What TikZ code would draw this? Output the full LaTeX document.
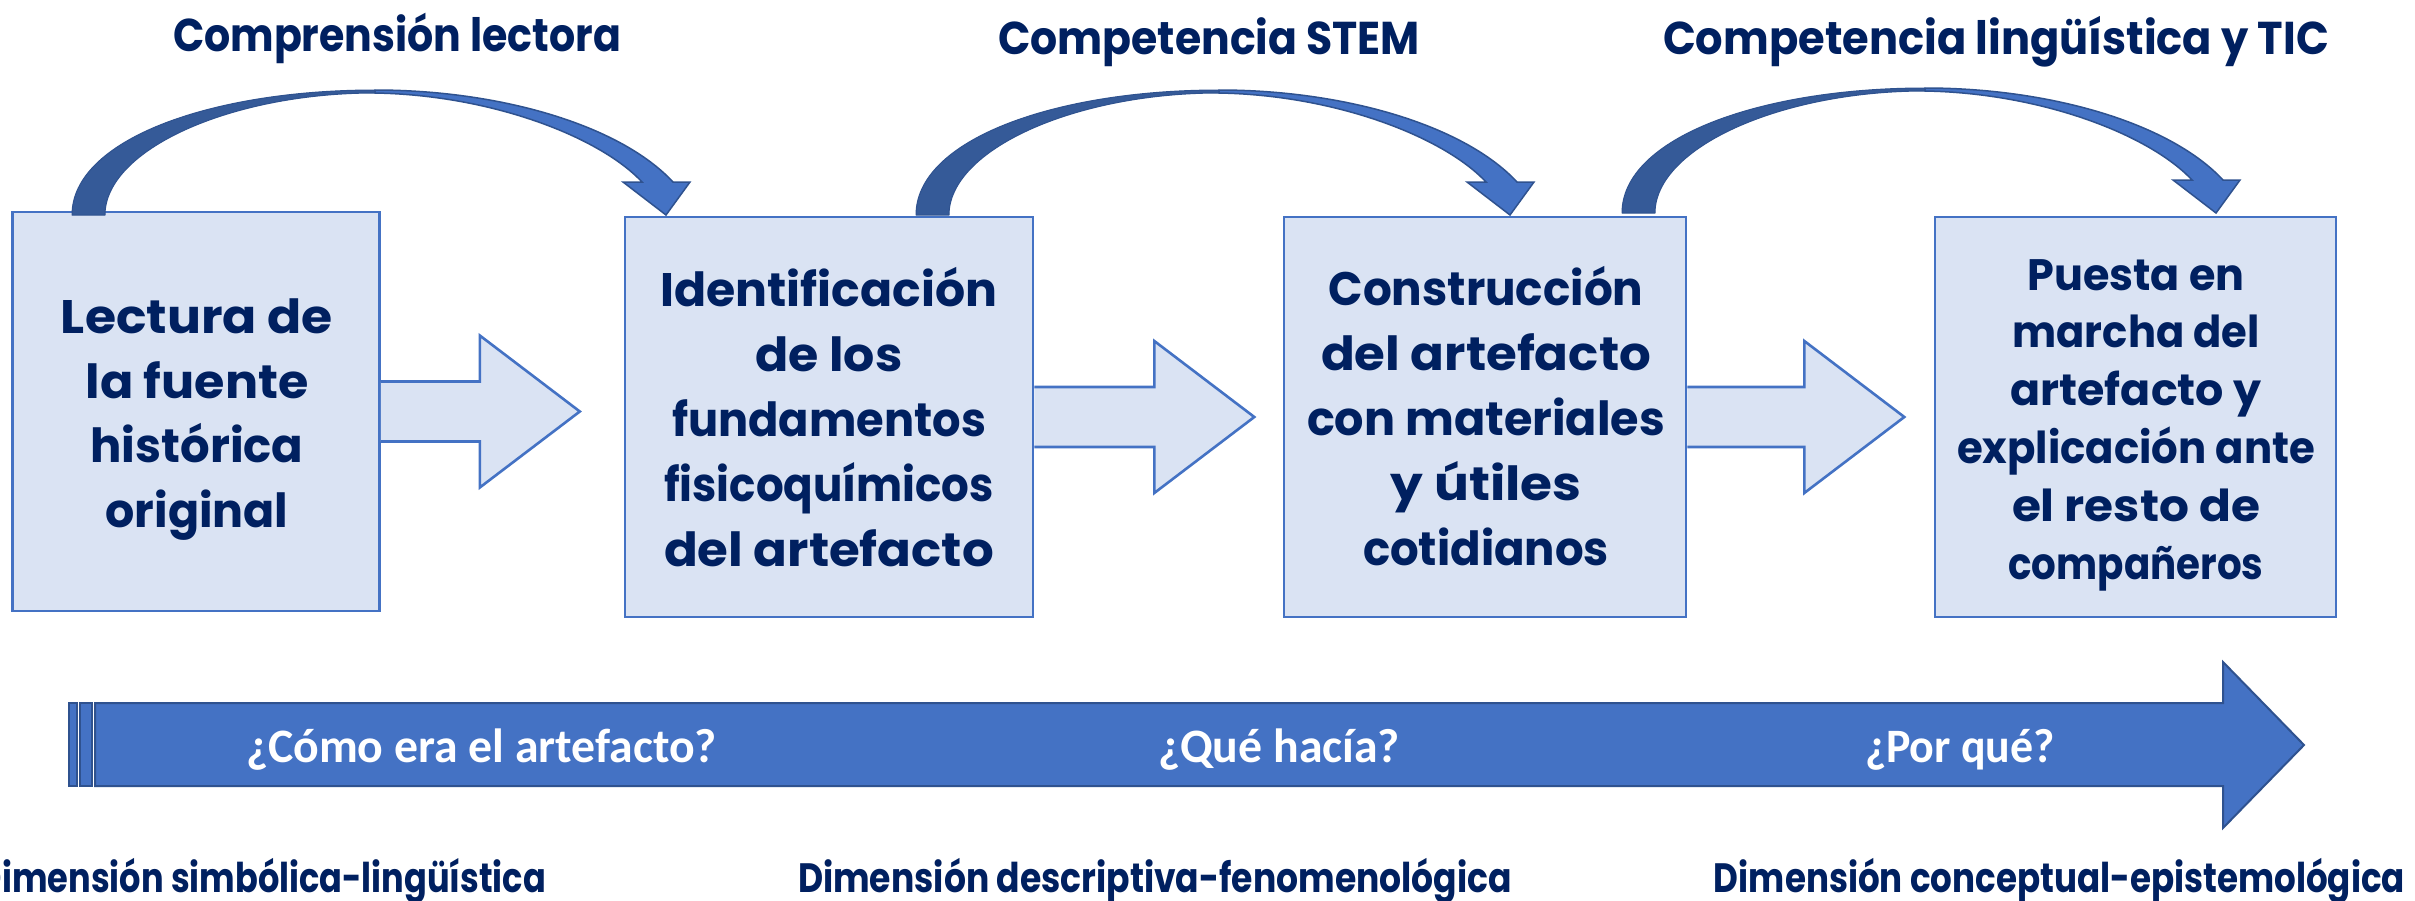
\documentclass[tikz,border=0pt]{standalone}
\usepackage{graphicx}
\usepackage{fontspec}
\setmainfont{Poppins}
\newfontfamily\cuerpo{Poppins}
\newfontfamily\blanco{Carlito}
\definecolor{navy}{HTML}{002060}
\definecolor{acc}{HTML}{4472C4}
\definecolor{accd}{HTML}{2F528F}
\definecolor{accm}{HTML}{355A98}
\definecolor{pale}{HTML}{DAE3F3}
\newcommand\fl[2]{\resizebox{#1pt}{\height}{#2}}
\tikzset{
  boxst/.style={draw=acc,fill=pale,line width=2.6pt,inner sep=0pt,rectangle},
  blockst/.style={draw=acc,fill=pale,line width=2.6pt,line join=miter},
  bigst/.style={draw=accd,fill=acc,line width=2pt},
  curvedark/.style={draw=accd,fill=accm,line width=1pt,line join=round},
  curvelight/.style={draw=accd,fill=acc,line width=1.5pt,line join=miter},
  bodytxt/.style={text=navy,align=center,inner sep=0pt,font=\cuerpo\bfseries\fontsize{47}{64.8}\selectfont},
  bodytxtb/.style={text=navy,align=center,inner sep=0pt,font=\cuerpo\bfseries\fontsize{44}{57.8}\selectfont},
  titlest/.style={text=navy,inner sep=0pt,anchor=base,font=\cuerpo\bfseries\fontsize{46}{50}\selectfont},
  dimst/.style={text=navy,inner sep=0pt,anchor=base,font=\cuerpo\bfseries\fontsize{41}{50}\selectfont},
  qst/.style={text=white,inner sep=0pt,anchor=base,font=\blanco\bfseries\fontsize{48}{50}\selectfont}
}
\newcommand\blockarrow[2]{%
  \draw[blockst] ([yshift=30pt]#1.east) -- ++(#2,0) -- ++(0,-46) -- ++(100,76) -- ++(-100,76) -- ++(0,-46) -- ++(-#2,0);}
\newcommand\curvedarrow[2]{%
  \begin{scope}[shift={(#1,#2)}]
    \draw[curvedark] (0,0) .. controls (0,-75) and (138,-125) .. (303,-125) -- (303,-122) .. controls (158,-122) and (33,-65) .. (33,0) -- cycle;
    \draw[curvelight] (303,-125) .. controls (428,-125) and (548,-90) .. (601,-33) -- (618,-33) -- (594,0) -- (551,-33) -- (570,-33) .. controls (528,-78) and (420,-120) .. (303,-122) -- cycle;
  \end{scope}}
\begin{document}
\begin{tikzpicture}[x=1pt,y=-1pt]
\useasboundingbox (0,0) rectangle (2415,900);
\clip (0,0) rectangle (2415,900);
\fill[white] (0,0) rectangle (2415,900);

% process boxes
\node[boxst,minimum width=367pt,minimum height=399pt] (b1) at (196,411.5) {};
\node[boxst,minimum width=408pt,minimum height=400pt] (b2) at (829,417) {};
\node[boxst,minimum width=402pt,minimum height=400pt] (b3) at (1485,417) {};
\node[boxst,minimum width=401pt,minimum height=400pt] (b4) at (2135.5,417) {};

% block arrows
\blockarrow{b1}{99}
\blockarrow{b2}{120}
\blockarrow{b3}{117}

% curved arrows
\curvedarrow{72}{215}
\curvedarrow{916}{215}
\curvedarrow{1622}{213}

% box texts
\node[bodytxt] (t1) at (197,419.5) {\fl{272}{Lectura de}\\\fl{223}{la fuente}\\\fl{213}{histórica}\\\fl{183}{original}};
\node[bodytxt] (t2) at (829,417) {\fl{337}{Identificación}\\\fl{147}{de los}\\\fl{314}{fundamentos}\\\fl{330}{fisicoquímicos}\\\fl{330}{del artefacto}};
\node[bodytxt] (t3) at (1486,416) {\fl{315}{Construcción}\\\fl{330}{del artefacto}\\\fl{358}{con materiales}\\\fl{191}{y útiles}\\\fl{246}{cotidianos}};
\node[bodytxtb] (t4) at (2136,425) {\fl{217}{Puesta en}\\\fl{247}{marcha del}\\\fl{251}{artefacto y}\\\fl{358}{explicación ante}\\\fl{248}{el resto de}\\\fl{255}{compañeros}};

% titles
\node[titlest] (c1) at (397,51) {\fl{448}{Comprensión lectora}};
\node[titlest] (c2) at (1209,54) {\fl{422}{Competencia STEM}};
\node[titlest] (c3) at (1996,54) {\fl{666}{Competencia lingüística y TIC}};

% timeline arrow
\fill[acc,draw=accd,line width=2pt] (69,703) rectangle (76.5,786);
\fill[acc,draw=accd,line width=2pt] (80,703) rectangle (92,786);
\draw[bigst] (95,703) -- (2223,703) -- (2223,662) -- (2304,745) -- (2223,828) -- (2223,786) -- (95,786) -- cycle;
\node[qst] (q1) at (481.5,762) {\fl{471}{¿Cómo era el artefacto?}};
\node[qst] (q2) at (1279,762) {\fl{242}{¿Qué hacía?}};
\node[qst] (q3) at (1960,762) {\fl{190}{¿Por qué?}};

% dimensions
\node[dimst] (d1) at (262,892) {\fl{568}{Dimensión simbólica-lingüística}};
\node[dimst] (d2) at (1155,892) {\fl{714}{Dimensión descriptiva-fenomenológica}};
\node[dimst] (d3) at (2059.5,892) {\fl{691}{Dimensión conceptual-epistemológica}};
\end{tikzpicture}
\end{document}
